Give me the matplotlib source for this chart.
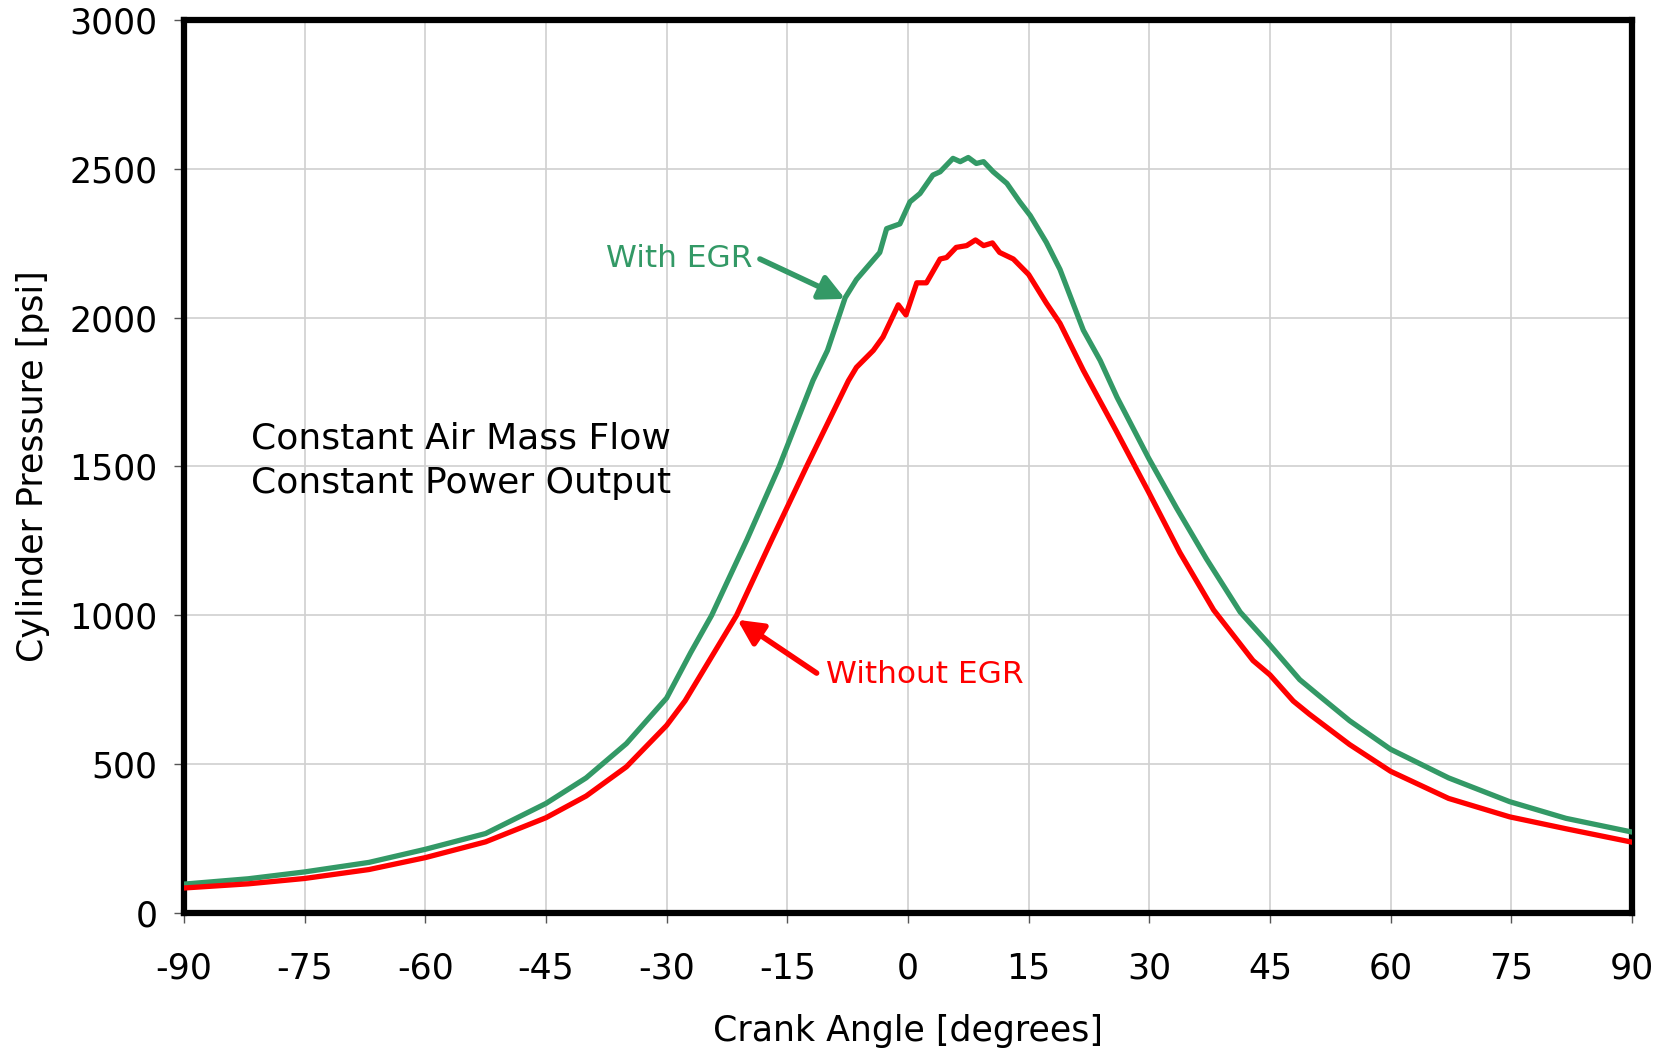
import matplotlib
matplotlib.use("Agg")
import matplotlib.pyplot as plt
import numpy as np

plt.rcParams['axes.unicode_minus'] = False

###############################################################################
# values (crank angle in degrees, pressure in psi)

angle_egr = [-90, -82, -75, -67, -60, -52.5, -45, -40, -35, -30, -27, -24.4,
             -20, -16, -11.8, -10, -7.8, -6.4, -3.5, -2.65, -1.0, 0.25, 1.5,
             3.1, 4.0, 5.6, 6.5, 7.5, 8.5, 9.4, 10.6, 12.3, 13.9, 15.2, 17.2,
             18.9, 21.8, 23.9, 26, 29.9, 33.4, 37.1, 41.3, 45, 48.7, 51.2,
             54.9, 60, 67.2, 74.8, 81.8, 90]
p_egr = [97, 115, 138, 170, 214, 267, 368, 454, 569, 722, 875, 1000,
         1255, 1500, 1789, 1890, 2067, 2128, 2219, 2299, 2315, 2389, 2417,
         2479, 2490, 2535, 2524, 2538, 2518, 2524, 2490, 2451, 2389, 2343, 2253,
         2162, 1958, 1856, 1732, 1529, 1360, 1190, 1011, 900, 784, 728,
         646, 550, 454, 374, 318, 272]

angle_no_egr = [-90, -82, -75, -67, -60, -52.5, -45, -40, -35, -30, -27.7, -21.3,
                -17, -12.6, -7.4, -6.4, -4.3, -3.1, -1.2, -0.25, 1.1, 2.3, 4.0,
                4.8, 6.0, 7.3, 8.4, 9.4, 10.5, 11.4, 13.1, 15, 17.2, 18.9, 21.8,
                25.9, 29.9, 33.8, 38, 42.9, 45, 47.9, 49.9, 54.9, 60, 67.2,
                74.8, 81.8, 90]
p_no_egr = [84, 98, 116, 146, 186, 239, 320, 393, 491, 630, 713, 1000,
            1250, 1500, 1788, 1833, 1890, 1935, 2043, 2009, 2117, 2117, 2197,
            2202, 2236, 2242, 2261, 2242, 2251, 2219, 2197, 2145, 2049, 1981, 1823,
            1619, 1415, 1211, 1018, 848, 800, 712, 668, 566, 476, 385,
            323, 283, 238]

x_ticks = np.arange(-90, 91, 15)
y_ticks = np.arange(0, 3001, 500)

green = "#339966"
red = "#ff0000"

###############################################################################
# plot

fig = plt.figure(figsize=(16.69, 10.51), dpi=100)
ax = fig.add_axes([0.1102, 0.1313, 0.8676, 0.8497])

ax.plot(angle_egr, p_egr, color=green, lw=3.8, zorder=3)
ax.plot(angle_no_egr, p_no_egr, color=red, lw=3.8, zorder=3)

ax.set_xlim(-90, 90)
ax.set_ylim(0, 3000)
ax.set_xticks(x_ticks)
ax.set_yticks(y_ticks)
ax.grid(True, color="#d0d0d0", lw=1.2)
ax.set_axisbelow(True)

for s in ax.spines.values():
    s.set_linewidth(4.5)
    s.set_color("black")

ax.tick_params(axis="x", direction="out", length=7, width=1, pad=21, labelsize=25, color="#555555")
ax.tick_params(axis="y", direction="out", length=7, width=1, pad=12, labelsize=25, color="#555555")

ax.set_xlabel("Crank Angle [degrees]", fontsize=25, labelpad=20)
ax.set_ylabel("Cylinder Pressure [psi]", fontsize=25, labelpad=14)

ax.text(-81.7, 1595, "Constant Air Mass Flow", fontsize=26, va="center", ha="left")
ax.text(-81.7, 1445, "Constant Power Output", fontsize=26, va="center", ha="left")

ax.text(-37.5, 2198, "With EGR", color=green, fontsize=22.5, va="center", ha="left")
ax.annotate("", xy=(-7.8, 2063), xytext=(-18.4, 2197),
            arrowprops=dict(arrowstyle="-|>", color=green, lw=4, mutation_scale=38,
                            shrinkA=0, shrinkB=0))

ax.text(-10.2, 800, "Without EGR", color=red, fontsize=22.5, va="center", ha="left")
ax.annotate("", xy=(-21.2, 985), xytext=(-11.35, 806),
            arrowprops=dict(arrowstyle="-|>", color=red, lw=4, mutation_scale=38,
                            shrinkA=0, shrinkB=0))

plt.savefig("out.png", dpi=100)
